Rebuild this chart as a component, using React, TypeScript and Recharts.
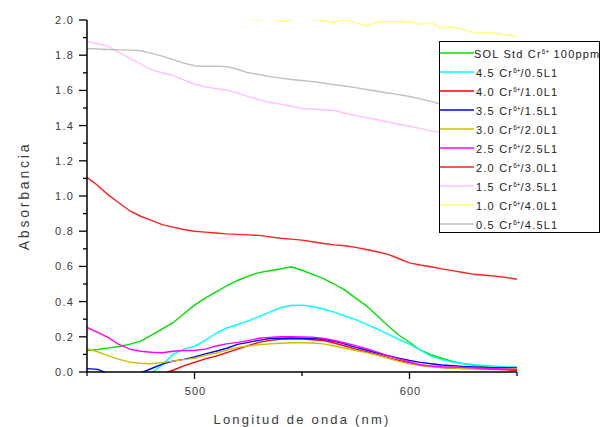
import React from "react";
import { LineChart, Line, XAxis, YAxis } from "recharts";

const wavelengths = [
  450, 455, 460, 465, 470, 475, 480, 485, 490, 495, 500, 505, 510, 515, 520,
  525, 530, 535, 540, 545, 550, 555, 560, 565, 570, 575, 580, 585, 590, 595,
  600, 605, 610, 615, 620, 625, 630, 635, 640, 645, 650,
];

const solStd = [
  0.122, 0.128, 0.137, 0.145, 0.158, 0.175, 0.21, 0.245, 0.28, 0.33, 0.38,
  0.42, 0.455, 0.49, 0.52, 0.545, 0.565, 0.575, 0.585, 0.598, 0.578, 0.555,
  0.53, 0.5, 0.465, 0.42, 0.376, 0.32, 0.263, 0.21, 0.169, 0.125, 0.098, 0.078,
  0.06, 0.047, 0.038, 0.03, 0.023, 0.02, 0.019,
];
const cr45 = [
  -0.04, -0.05, -0.05, -0.05, -0.04, -0.03, -0.005, 0.04, 0.1, 0.13, 0.145,
  0.18, 0.22, 0.25, 0.27, 0.29, 0.315, 0.34, 0.365, 0.378, 0.38, 0.372, 0.358,
  0.34, 0.318, 0.298, 0.27, 0.245, 0.215, 0.185, 0.158, 0.125, 0.09, 0.07,
  0.056, 0.048, 0.041, 0.037, 0.033, 0.03, 0.028,
];
const cr40 = [
  -0.06, -0.07, -0.07, -0.07, -0.06, -0.05, -0.03, -0.01, 0.01, 0.035, 0.055,
  0.075, 0.09, 0.11, 0.13, 0.15, 0.168, 0.18, 0.186, 0.188, 0.187, 0.183,
  0.178, 0.165, 0.148, 0.13, 0.115, 0.098, 0.082, 0.066, 0.052, 0.04, 0.032,
  0.025, 0.022, 0.02, 0.019, 0.017, 0.015, 0.012, 0.01,
];
const cr35 = [
  0.019, 0.015, -0.01, -0.02, -0.02, -0.005, 0.02, 0.045, 0.062, 0.072, 0.085,
  0.103, 0.118, 0.135, 0.157, 0.168, 0.18, 0.19, 0.192, 0.193, 0.192, 0.19,
  0.186, 0.175, 0.158, 0.14, 0.125, 0.108, 0.092, 0.079, 0.066, 0.055, 0.047,
  0.04, 0.036, 0.031, 0.028, 0.026, 0.025, 0.024, 0.023,
];
const cr30 = [
  0.132, 0.115, 0.092, 0.072, 0.056, 0.05, 0.047, 0.055, 0.062, 0.07, 0.078,
  0.095, 0.108, 0.125, 0.14, 0.148, 0.155, 0.16, 0.163, 0.166, 0.166, 0.165,
  0.16, 0.148, 0.135, 0.122, 0.11, 0.095, 0.078, 0.06, 0.046, 0.036, 0.03,
  0.025, 0.022, 0.02, 0.019, 0.019, 0.019, 0.019, 0.019,
];
const cr25 = [
  0.254, 0.225, 0.195, 0.155, 0.13, 0.118, 0.112, 0.109, 0.118, 0.122, 0.122,
  0.13, 0.148, 0.16, 0.168, 0.178, 0.192, 0.197, 0.2, 0.2, 0.199, 0.198, 0.19,
  0.18, 0.165, 0.15, 0.132, 0.113, 0.093, 0.075, 0.058, 0.04, 0.034, 0.03,
  0.028, 0.026, 0.023, 0.021, 0.019, 0.017, 0.015,
];
const cr20 = [
  1.106, 1.06, 1.005, 0.96, 0.915, 0.885, 0.862, 0.837, 0.823, 0.81, 0.8,
  0.795, 0.79, 0.785, 0.782, 0.779, 0.776, 0.768, 0.76, 0.755, 0.749, 0.74,
  0.73, 0.722, 0.717, 0.708, 0.696, 0.683, 0.668, 0.645, 0.62, 0.608, 0.598,
  0.586, 0.576, 0.565, 0.555, 0.55, 0.545, 0.537, 0.527,
];
const cr15 = [
  1.877, 1.865, 1.85, 1.815, 1.782, 1.75, 1.718, 1.7, 1.685, 1.66, 1.635, 1.62,
  1.61, 1.602, 1.585, 1.565, 1.548, 1.532, 1.522, 1.51, 1.498, 1.494, 1.49,
  1.486, 1.47, 1.457, 1.445, 1.433, 1.42, 1.408, 1.396, 1.384, 1.37, 1.36,
  1.35, 1.34, 1.33, 1.32, 1.31, 1.3, 1.29,
];
const cr10 = [
  2.12, 2.11, 2.1, 2.09, 2.08, 2.07, 2.06, 2.05, 2.04, 2.03, 2.025, 2.02,
  2.015, 2.01, 2.006, 2.003, 1.999, 2.012, 1.993, 2.0, 2.012, 2.002, 1.996,
  1.987, 2.003, 1.985, 1.965, 1.99, 1.99, 1.99, 1.99, 1.975, 1.985, 1.955,
  1.96, 1.945, 1.928, 1.927, 1.925, 1.915, 1.908,
];
const cr05 = [
  1.838, 1.835, 1.832, 1.83, 1.829, 1.825, 1.81, 1.795, 1.775, 1.755, 1.74,
  1.737, 1.737, 1.735, 1.72, 1.7, 1.69, 1.678, 1.67, 1.662, 1.656, 1.65, 1.642,
  1.632, 1.625, 1.616, 1.605, 1.595, 1.585, 1.576, 1.565, 1.552, 1.538, 1.52,
  1.51, 1.5, 1.49, 1.48, 1.47, 1.46, 1.45,
];

const seriesNames = [
  ["SOL Std Cr", " 100ppm"],
  ["4.5 Cr", "/0.5L1"],
  ["4.0 Cr", "/1.0L1"],
  ["3.5 Cr", "/1.5L1"],
  ["3.0 Cr", "/2.0L1"],
  ["2.5 Cr", "/2.5L1"],
  ["2.0 Cr", "/3.0L1"],
  ["1.5 Cr", "/3.5L1"],
  ["1.0 Cr", "/4.0L1"],
  ["0.5 Cr", "/4.5L1"],
];
const seriesValues = [solStd, cr45, cr40, cr35, cr30, cr25, cr20, cr15, cr10, cr05];
const seriesColors = [
  "#00e000", "#00ffff", "#ff0000", "#0000ff", "#c8c000",
  "#ff00ff", "#ff2020", "#ffc0ff", "#ffff70", "#c0c0c0",
];

const xTicks = [450, 500, 550, 600, 650];
const xLabeled = [500, 600];
const yTicks = [
  0, 0.1, 0.2, 0.3, 0.4, 0.5, 0.6, 0.7, 0.8, 0.9, 1.0, 1.1, 1.2, 1.3, 1.4, 1.5,
  1.6, 1.7, 1.8, 1.9, 2.0,
];

const data = wavelengths.map((w, i) => {
  const row: Record<string, number> = { w };
  seriesValues.forEach((vals, k) => {
    row["s" + k] = vals[i];
  });
  return row;
});

const FONT = "'Liberation Sans', Arial, sans-serif";
const TEXT = "#3a3a3a";

const YTick = (props: any) => {
  const { x, y, payload } = props;
  const major = Math.round(payload.value * 10) % 2 === 0;
  return (
    <g>
      <line x1={x - (major ? 8 : 4)} y1={y} x2={x} y2={y} stroke="#000" strokeWidth={1.3} />
      {major && (
        <text x={x - 13} y={y} dy={4} textAnchor="end" fontSize={11} letterSpacing={1.2} fill={TEXT} fontFamily={FONT}>
          {payload.value.toFixed(1)}
        </text>
      )}
    </g>
  );
};

const XTick = (props: any) => {
  const { x, y, payload } = props;
  const major = xLabeled.includes(payload.value);
  return (
    <g>
      <line x1={x} y1={y} x2={x} y2={y + (major ? 7 : 4)} stroke="#000" strokeWidth={1.3} />
      {major && (
        <text x={x + 1} y={y + 23} textAnchor="middle" fontSize={11} letterSpacing={1} fill={TEXT} fontFamily={FONT}>
          {payload.value}
        </text>
      )}
    </g>
  );
};

export default function App() {
  return (
    <div style={{ position: "absolute", left: 0, top: 0, width: 603, height: 427, background: "#fff" }}>
      <LineChart
        width={603}
        height={427}
        data={data}
        margin={{ top: 20, right: 86, bottom: 0, left: 0 }}
      >
        <XAxis
          dataKey="w"
          type="number"
          domain={[450, 650]}
          ticks={xTicks}
          tick={<XTick />}
          tickSize={0}
          tickMargin={0}
          tickLine={false}
          height={55}
          axisLine={{ stroke: "#000", strokeWidth: 1.5 }}
          label={{
            value: "Longitud de onda (nm)",
            position: "insideBottom",
            offset: 3,
            fontSize: 13,
            fill: TEXT,
            fontFamily: FONT,
            letterSpacing: 2.2,
          }}
        />
        <YAxis
          type="number"
          domain={[0, 2]}
          allowDataOverflow
          ticks={yTicks}
          interval={0}
          tick={<YTick />}
          tickSize={0}
          tickMargin={0}
          tickLine={false}
          width={87}
          axisLine={{ stroke: "#000", strokeWidth: 1.5 }}
          label={{
            value: "Absorbancia",
            angle: -90,
            position: "insideLeft",
            offset: 24,
            style: { textAnchor: "middle" },
            fontSize: 14,
            fill: TEXT,
            fontFamily: FONT,
            letterSpacing: 2.8,
          }}
        />
        {seriesValues.map((_, k) => (
          <Line
            key={k}
            type="linear"
            dataKey={"s" + k}
            stroke={seriesColors[k]}
            strokeWidth={1.4}
            dot={false}
            isAnimationActive={false}
          />
        ))}
      </LineChart>
      <div
        style={{
          position: "absolute",
          left: 439,
          top: 41,
          width: 161,
          height: 192,
          border: "1.5px solid #000",
          background: "#fff",
          boxSizing: "border-box",
          fontFamily: FONT,
          fontSize: 11,
          letterSpacing: 1.2,
          color: "#222",
          paddingTop: 1,
          overflow: "hidden",
        }}
      >
        {seriesNames.map((n, k) => (
          <div key={k} style={{ height: 19.1, display: "flex", alignItems: "center", whiteSpace: "nowrap" }}>
            <svg width={34} height={6} style={{ flex: "none", marginRight: k === 0 ? 0 : 2 }}>
              <line x1={0} y1={3} x2={34} y2={3} stroke={seriesColors[k]} strokeWidth={1.6} />
            </svg>
            <span style={{ lineHeight: "12px" }}>
              {n[0]}
              <sup style={{ fontSize: 6.5, verticalAlign: "4px", letterSpacing: 0 }}>6+</sup>
              {n[1]}
            </span>
          </div>
        ))}
      </div>
    </div>
  );
}
